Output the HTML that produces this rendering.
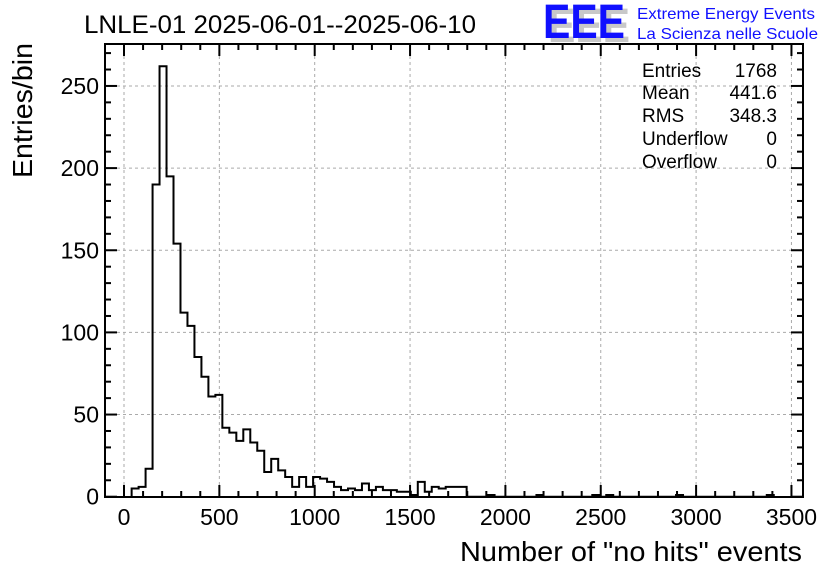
<!DOCTYPE html>
<html><head><meta charset="utf-8"><style>
body{margin:0;background:#fff}
svg{display:block;font-family:"Liberation Sans",Arial,sans-serif}
</style></head><body>
<svg id="c" width="836" height="572" viewBox="0 0 836 572">
<rect width="836" height="572" fill="#fff"/>
<text x="84" y="33" font-size="25" textLength="392" lengthAdjust="spacingAndGlyphs">LNLE-01 2025-06-01--2025-06-10</text>
<g>
<text x="548" y="42" font-size="48" font-weight="bold" fill="#c8c8c8" textLength="82" lengthAdjust="spacingAndGlyphs">EEE</text>
<text x="543" y="38" font-size="48" font-weight="bold" fill="#1010ff" textLength="82" lengthAdjust="spacingAndGlyphs">EEE</text>
<text x="637" y="19" font-size="16" fill="#1010ff" textLength="178" lengthAdjust="spacingAndGlyphs">Extreme Energy Events</text>
<text x="637" y="39" font-size="16" fill="#1010ff" textLength="181" lengthAdjust="spacingAndGlyphs">La Scienza nelle Scuole</text>
</g>
<g id="grid"></g>
<g id="hist"></g>
<g id="axes"></g>
<g font-size="19">
<text x="642" y="77">Entries</text><text x="777" y="77" text-anchor="end">1768</text>
<text x="642" y="99">Mean</text><text x="777" y="99" text-anchor="end">441.6</text>
<text x="642" y="122">RMS</text><text x="777" y="122" text-anchor="end">348.3</text>
<text x="642" y="145">Underflow</text><text x="777" y="145" text-anchor="end">0</text>
<text x="642" y="168">Overflow</text><text x="777" y="168" text-anchor="end">0</text>
</g>
<text x="802" y="561" font-size="28" text-anchor="end" textLength="342" lengthAdjust="spacingAndGlyphs">Number of "no hits" events</text>
<text transform="translate(32,178) rotate(-90)" font-size="28" textLength="135" lengthAdjust="spacingAndGlyphs">Entries/bin</text>
</svg>
<script>
const binStart = 40;
const binWidth = 36.6;
const counts = [5,6,17,190,262,195,154,112,104,85,73,61,62,42,39,34,41,33,28,15,23,16,12,6,12,6,12,11,9,6,4,5,4,8,4,6,4,4,3,3,1,9,3,6,5,6,6,6,
0,0,0,1,0,0,0,0,0,0,1,0,0,0,0,0,0,0,1,0,1,0,0,0,0,0,0,0,0,0,1,0,0,0,0,0,0,0,0,0,0,0,0,1];
const xTicks = [0,500,1000,1500,2000,2500,3000,3500];
const yTicks = [0,50,100,150,200,250];

const NS="http://www.w3.org/2000/svg";
const L=105,R=803,T=44,B=497;
const xScale=v=>124+v*0.1907;
const yScale=v=>496.7-v*1.643;
function mk(tag,attrs,parent){const e=document.createElementNS(NS,tag);for(const k in attrs)e.setAttribute(k,attrs[k]);parent.appendChild(e);return e;}
const grid=document.getElementById('grid'),hist=document.getElementById('hist'),axes=document.getElementById('axes');
xTicks.forEach(t=>{const x=xScale(t);if(x<R-2){
 const g=mk('line',{x1:x,x2:x,y1:T,y2:B,stroke:'#aaa','stroke-dasharray':'3,3','stroke-width':1},grid);
 
 }});
yTicks.forEach(t=>{const y=yScale(t);if(t>0){
 const g=mk('line',{x1:L,x2:R,y1:y,y2:y,stroke:'#aaa','stroke-dasharray':'3,3','stroke-width':1},grid);
 
 }});
let d='M'+xScale(binStart)+','+yScale(0);
counts.forEach((c,i)=>{const x0=xScale(binStart+i*binWidth),x1=xScale(binStart+(i+1)*binWidth);d+=' L'+x0+','+yScale(c)+' L'+x1+','+yScale(c);});
d+=' L'+xScale(binStart+counts.length*binWidth)+','+yScale(0);
const p=mk('path',{d:d,fill:'none',stroke:'#000','stroke-width':2},hist);


const f=mk('rect',{x:L,y:T,width:R-L,height:B-T,fill:'none',stroke:'#000','stroke-width':2},axes);


for(let v=0;v<=3500;v+=100){const x=xScale(v);if(x<L||x>R)continue;const len=v%500===0?12:6;
 mk('line',{x1:x,x2:x,y1:B,y2:B-len,stroke:'#000','stroke-width':2},axes);
 mk('line',{x1:x,x2:x,y1:T,y2:T+len,stroke:'#000','stroke-width':2},axes);}
for(let v=0;v<=270;v+=10){const y=yScale(v);if(y<T)continue;const len=v%50===0?12:6;
 mk('line',{x1:L,x2:L+len,y1:y,y2:y,stroke:'#000','stroke-width':2},axes);
 mk('line',{x1:R,x2:R-len,y1:y,y2:y,stroke:'#000','stroke-width':2},axes);}
xTicks.forEach(t=>{const tx=mk('text',{x:xScale(t),y:525,'font-size':23,'text-anchor':'middle'},axes);tx.textContent=t;
 
 });
yTicks.forEach(t=>{const tx=mk('text',{x:99,y:yScale(t)+8,'font-size':23,'text-anchor':'end'},axes);tx.textContent=t;
 
 });
</script>
</body></html>
